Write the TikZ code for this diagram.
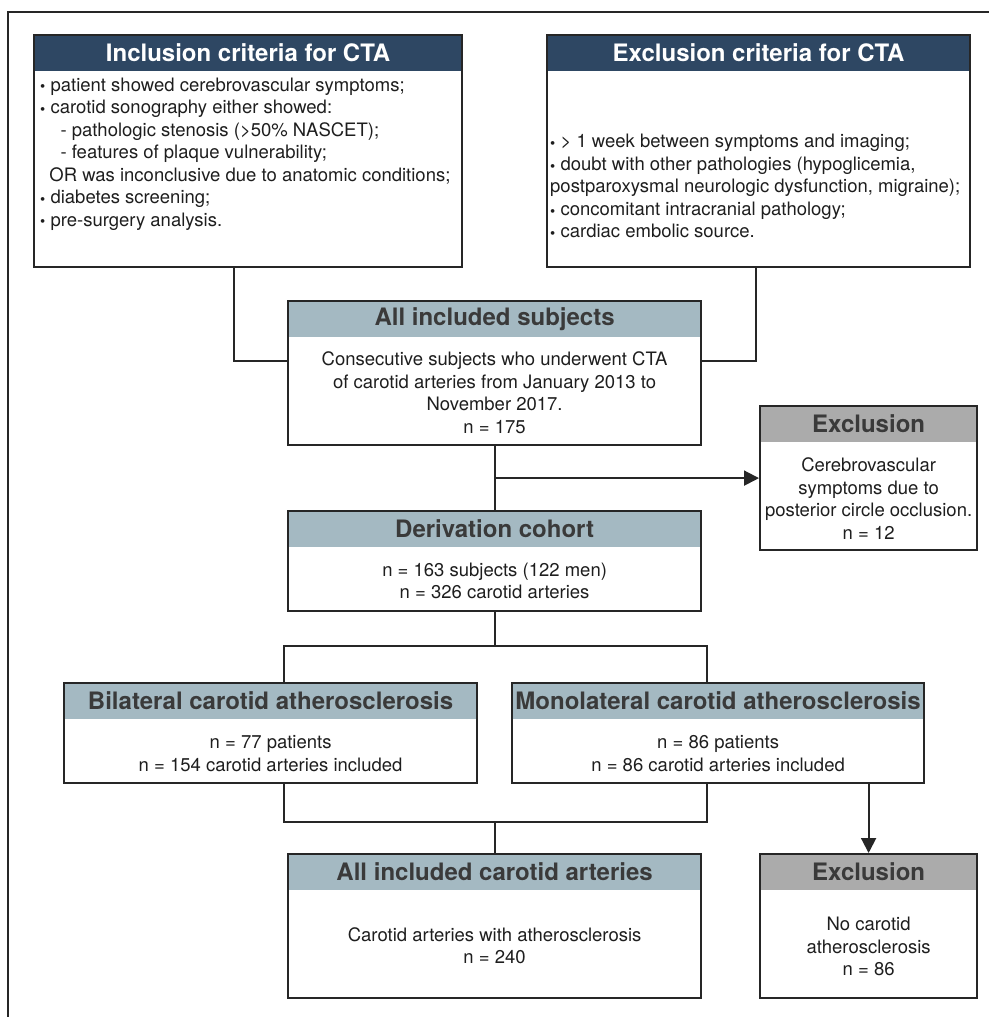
\documentclass[tikz,border=0pt]{standalone}
\usepackage{fontspec}
\setmainfont{TeX Gyre Heros}
\usepackage{graphicx}
\usetikzlibrary{positioning, arrows.meta, calc}
\pgfdeclarelayer{background}
\pgfsetlayers{background,main}
\definecolor{darkhead}{HTML}{2E4763}
\definecolor{lighthead}{HTML}{A4B9C2}
\definecolor{greyhead}{HTML}{ABABAB}
\definecolor{headtext}{HTML}{3A3A3A}
\definecolor{bodytext}{HTML}{1E1E1E}
\newcommand{\itm}{\raisebox{-0.04em}{\scalebox{0.8}{\textbullet}}\hspace{0.28em}}
\tikzset{
    box/.style={draw=black!85, line width=2.2pt, anchor=north west, inner sep=0pt},
    head/.style={anchor=north, inner sep=0pt, minimum height=37pt, text=headtext,
      font=\fontsize{24}{28}\selectfont\bfseries},
    body/.style={inner sep=0pt, text=bodytext, align=center,
      font=\fontsize{18.5}{22.5}\selectfont},
    link/.style={draw=black!85, line width=2pt},
    flow/.style={link, -{Triangle[length=15pt, width=15pt]}},
}

\begin{document}
\begin{tikzpicture}[x=1pt, y=-1pt]
    \useasboundingbox (0,0) rectangle (989,1017);
    \draw[link] (8,1017) -- (8,12) -- (989,12);

    % boxes
    \node[box, minimum width=428pt, minimum height=232pt] (incl) at (33,34) {};
    \node[box, minimum width=423pt, minimum height=232pt] (excl) at (546,34) {};
    \node[box, minimum width=413pt, minimum height=144pt] (subj) at (287,300) {};
    \node[box, minimum width=217pt, minimum height=144pt] (exc1) at (759,405) {};
    \node[box, minimum width=413pt, minimum height=100pt] (deriv) at (287,510) {};
    \node[box, minimum width=413pt, minimum height=100pt] (bil) at (63,682) {};
    \node[box, minimum width=412pt, minimum height=100pt] (mono) at (511,682) {};
    \node[box, minimum width=413pt, minimum height=144pt] (art) at (287,853) {};
    \node[box, minimum width=217pt, minimum height=144pt] (exc2) at (759,853) {};

    \begin{pgfonlayer}{background}
      \node[head, fill=darkhead, text=white, minimum width=428pt] (inclh) at (incl.north) {Inclusion criteria for CTA};
      \node[head, fill=darkhead, text=white, minimum width=423pt] (exclh) at (excl.north) {Exclusion criteria for CTA};
      \node[head, fill=lighthead, minimum width=413pt] (subjh) at (subj.north) {All included subjects};
      \node[head, fill=greyhead, minimum width=217pt] (exc1h) at (exc1.north) {Exclusion};
      \node[head, fill=lighthead, minimum width=413pt] (derivh) at (deriv.north) {Derivation cohort};
      \node[head, fill=lighthead, minimum width=413pt] (bilh) at (bil.north) {Bilateral carotid atherosclerosis};
      \node[head, fill=lighthead, minimum width=412pt] (monoh) at (mono.north) {Monolateral carotid atherosclerosis};
      \node[head, fill=lighthead, minimum width=413pt] (arth) at (art.north) {All included carotid arteries};
      \node[head, fill=greyhead, minimum width=217pt] (exc2h) at (exc2.north) {Exclusion};
    \end{pgfonlayer}

    % texts
    \node[body, align=left, anchor=west] (inclt) at (40,154) {\itm patient showed cerebrovascular symptoms;\\
      \itm carotid sonography either showed:\\
      \hspace*{1.1em}- pathologic stenosis (>50\% NASCET);\\
      \hspace*{1.1em}- features of plaque vulnerability;\\
      \hspace*{0.5em}OR was inconclusive due to anatomic conditions;\\
      \itm diabetes screening;\\
      \itm pre-surgery analysis.};
    \node[body, align=left, anchor=west] (exclt) at (550,186.5) {\itm > 1 week between symptoms and imaging;\\
      \itm doubt with other pathologies (hypoglicemia,\\
      postparoxysmal neurologic dysfunction, migraine);\\
      \itm concomitant intracranial pathology;\\
      \itm cardiac embolic source.};
    \node[body] (subjt) at ($(subjh.south)!0.5!(subj.south)+(0,1)$) {Consecutive subjects who underwent CTA\\
      of carotid arteries from January 2013 to\\ November 2017.\\ n = 175};
    \node[body] (exc1t) at ($(exc1h.south)!0.5!(exc1.south)+(0,2)$) {Cerebrovascular\\ symptoms due to\\
      posterior circle occlusion.\\ n = 12};
    \node[body] (derivt) at ($(derivh.south)!0.5!(deriv.south)+(0,1)$) {n = 163 subjects (122 men)\\ n = 326 carotid arteries};
    \node[body] (bilt) at ($(bilh.south)!0.5!(bil.south)+(0,2)$) {n = 77 patients\\ n = 154 carotid arteries included};
    \node[body] (monot) at ($(monoh.south)!0.5!(mono.south)+(0,2)$) {n = 86 patients\\ n = 86 carotid arteries included};
    \node[body] (artt) at ($(arth.south)!0.5!(art.south)+(0,1)$) {Carotid arteries with atherosclerosis\\ n = 240};
    \node[body] (exc2t) at ($(exc2h.south)!0.5!(exc2.south)+(0,2)$) {No carotid\\ atherosclerosis\\ n = 86};

    % connectors
    \draw[link] ([xshift=-14pt]incl.south) |- ([yshift=12pt]subj.west);
    \draw[link] ([xshift=-3pt]excl.south) |- ([yshift=12pt]subj.east);
    \draw[link] (subj.south) -- (deriv.north);
    \draw[flow] (subj.south |- exc1.west) -- (exc1.west);
    \coordinate (split) at ($(deriv.south)+(0,34)$);
    \draw[link] (deriv.south) -- (split);
    \draw[link] ([xshift=13.5pt]bil.north) |- (split) -| ([xshift=-11pt]mono.north);
    \coordinate (merge) at ($(bil.south -| art.north)+(0,38)$);
    \draw[link] ([xshift=13.5pt]bil.south) |- (merge) -| ([xshift=-11pt]mono.south);
    \draw[link] (merge) -- (art.north);
    \draw[flow] (mono.south -| exc2.north) -- (exc2.north);
\end{tikzpicture}
\end{document}
